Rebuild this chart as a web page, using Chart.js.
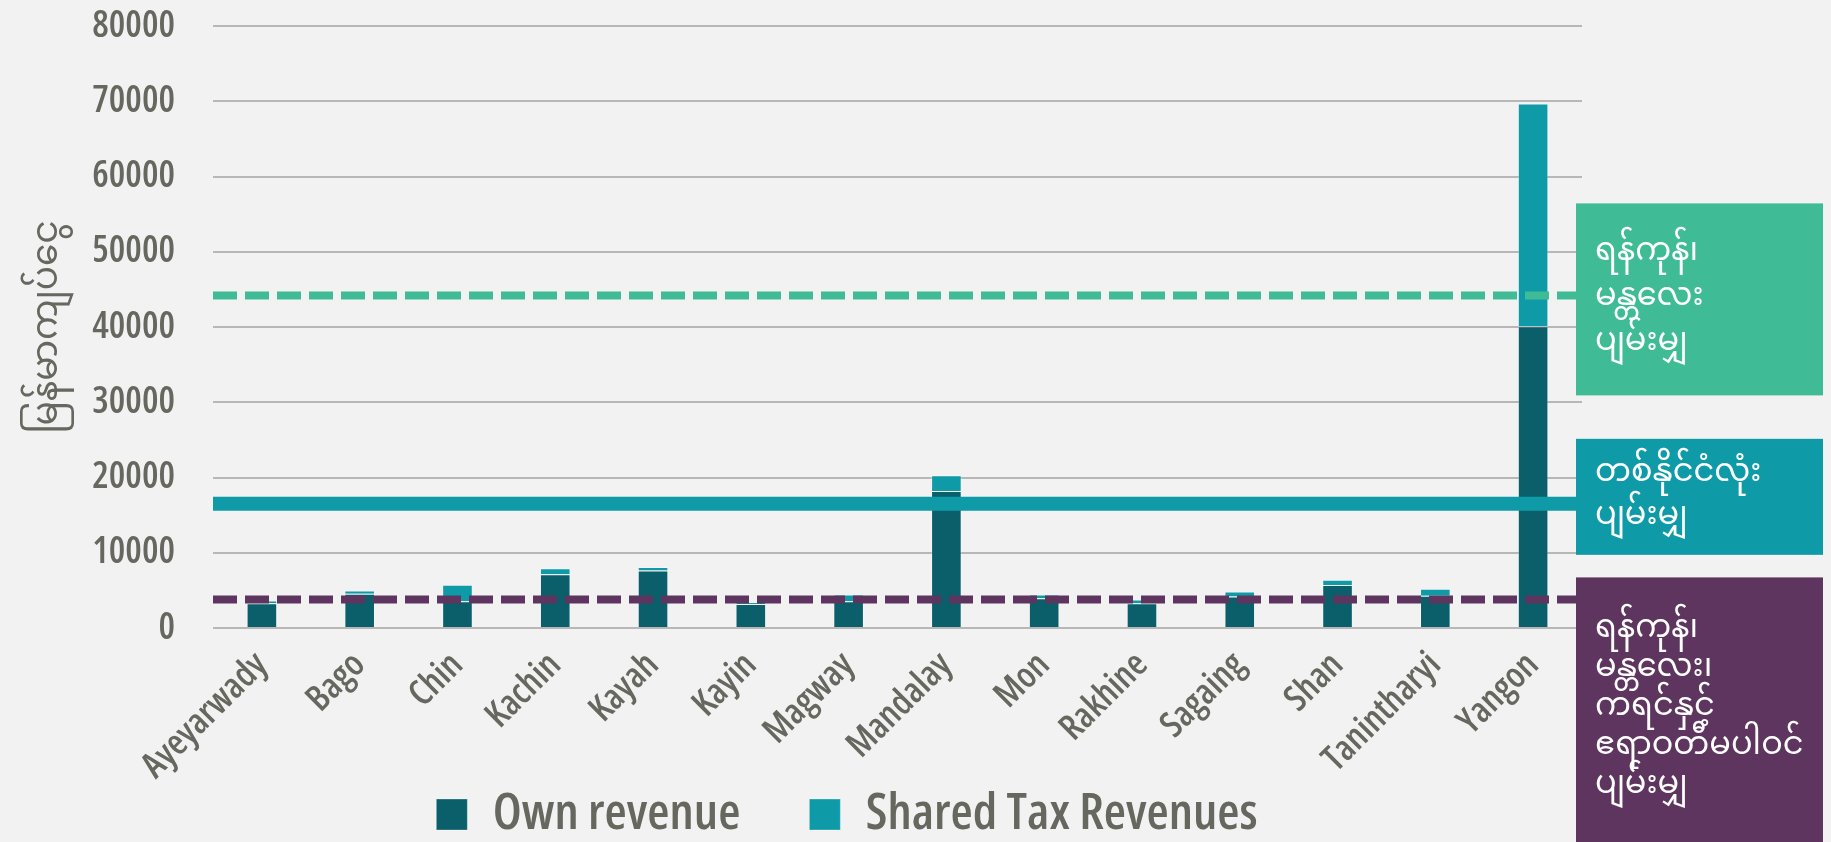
<!DOCTYPE html>
<html>
<head>
<meta charset="utf-8">
<script src="https://cdn.jsdelivr.net/npm/chart.js@4.4.1/dist/chart.umd.min.js"></script>
<style>
  html, body { margin: 0; padding: 0; background: #f2f2f2; }
  #wrap { width: 1831px; height: 842px; position: relative; }
</style>
</head>
<body>
<div id="wrap"><canvas id="revenueChart"></canvas></div>
<script>
// data
const regions = ['Ayeyarwady', 'Bago', 'Chin', 'Kachin', 'Kayah', 'Kayin', 'Magway', 'Mandalay',
                 'Mon', 'Rakhine', 'Sagaing', 'Shan', 'Tanintharyi', 'Yangon'];
const ownRevenue = [3300, 4550, 3550, 7150, 7650, 3200, 3550, 18200, 3950, 3300, 4200, 5700, 4300, 40100];
const sharedTax = [350, 450, 2200, 800, 450, 250, 900, 2100, 500, 500, 650, 700, 900, 29600];
const yMax = 80000;
const yStep = 10000;

const avgYangonMandalay = 44200;
const avgNational = 16500;
const avgOthers = 3800;

const yTitle = 'မြန်မာကျပ်ငွေ';
const seriesNames = ['Own revenue', 'Shared Tax Revenues'];
const labelYangonMandalay = ['ရန်ကုန်၊', 'မန္တလေး', 'ပျမ်းမျှ'];
const labelNational = ['တစ်နိုင်ငံလုံး', 'ပျမ်းမျှ'];
const labelOthers = ['ရန်ကုန်၊', 'မန္တလေး၊', 'ကရင်နှင့်', 'ဧရာဝတီမပါဝင်', 'ပျမ်းမျှ'];

const GREY = '#66675f';
const DARK = '#0a5f6b';
const TEAL = '#0f9aa8';
const GREEN = '#3fbb96';
const PURPLE = '#5e355e';
const narrowFont = '"Open Sans", sans-serif';
const mmFont = '"Noto Sans Myanmar", "Padauk", "Myanmar Text", "Noto Sans", sans-serif';

function avgLine(value, color, width, dash) {
    return {
        type: 'line',
        data: [{ x: 0, y: value }, { x: 1, y: value }],
        xAxisID: 'xl',
        yAxisID: 'yl',
        borderColor: color,
        borderWidth: width,
        borderDash: dash,
        pointRadius: 0,
        fill: false,
        order: 1
    };
}

// coloured label boxes on the right of the average lines
const sideBoxes = {
    id: 'sideBoxes',
    afterDraw(chart) {
        const ctx = chart.ctx;
        const y = chart.scales.y;
        const boxes = [
            { value: avgYangonMandalay, color: GREEN, top: -92, height: 192, lines: labelYangonMandalay, gap: 45 },
            { value: avgNational, color: TEAL, top: -65, height: 116, lines: labelNational, gap: 43 },
            { value: avgOthers, color: PURPLE, top: -22, height: 300, lines: labelOthers, gap: 39 }
        ];
        ctx.save();
        boxes.forEach(b => {
            const py = y.getPixelForValue(b.value);
            ctx.fillStyle = b.color;
            ctx.fillRect(1576, py + b.top, 247, b.height);
            ctx.fillStyle = '#ffffff';
            ctx.font = '32px ' + mmFont;
            ctx.textAlign = 'left';
            ctx.textBaseline = 'middle';
            const mid = py + b.top + Math.min(b.height, 842 - (py + b.top)) / 2 + 2;
            const start = mid - (b.lines.length - 1) * b.gap / 2;
            b.lines.forEach((t, i) => ctx.fillText(t, 1595, start + i * b.gap));
        });
        ctx.restore();
    }
};

const ctx = document.getElementById('revenueChart').getContext('2d');
new Chart(ctx, {
    type: 'bar',
    data: {
        labels: regions,
        datasets: [
            {
                label: seriesNames[0],
                data: ownRevenue,
                stack: 'rev',
                grouped: false,
                backgroundColor: DARK,
                borderColor: 'rgba(255,255,255,0.3)',
                borderWidth: 1,
                barPercentage: 0.313,
                categoryPercentage: 1,
                order: 2
            },
            {
                label: seriesNames[1],
                data: sharedTax,
                stack: 'rev',
                grouped: false,
                backgroundColor: TEAL,
                borderColor: 'rgba(255,255,255,0.3)',
                borderWidth: 1,
                barPercentage: 0.313,
                categoryPercentage: 1,
                order: 2
            },
            avgLine(avgYangonMandalay, GREEN, 8, [24, 8]),
            avgLine(avgNational, TEAL, 14, []),
            avgLine(avgOthers, PURPLE, 8, [24, 8])
        ]
    },
    options: {
        responsive: true,
        maintainAspectRatio: false,
        animation: false,
        layout: { padding: { top: 26, right: 137, bottom: 0, left: 0 } },
        plugins: {
            tooltip: { enabled: false },
            legend: {
                position: 'bottom',
                maxHeight: 122,
                labels: {
                    boxWidth: 31,
                    boxHeight: 31,
                    padding: 69,
                    color: GREY,
                    font: { size: 51, weight: '600 condensed', family: narrowFont },
                    filter: item => item.datasetIndex < 2
                }
            }
        },
        scales: {
            x: {
                stacked: true,
                grid: { display: false },
                border: { display: false },
                ticks: {
                    color: GREY,
                    font: { size: 36, weight: '600 condensed', family: narrowFont },
                    minRotation: 45,
                    maxRotation: 45,
                    autoSkip: false,
                    padding: 8
                },
                afterFit: s => {
                    s.height = 92;
                    s._computeLabelArea = () => null; // let rotated labels run over the legend band
                }
            },
            xl: { type: 'linear', min: 0, max: 1, offset: false, display: false },
            y: {
                stacked: true,
                min: 0,
                max: yMax,
                ticks: {
                    stepSize: yStep,
                    color: GREY,
                    font: { size: 37, weight: '600 condensed', family: narrowFont },
                    padding: 0,
                    callback: v => String(v)
                },
                grid: { color: '#b7b7b7', lineWidth: 2, drawTicks: true, tickLength: 38, tickColor: 'rgba(0,0,0,0)' },
                border: { display: false },
                title: {
                    display: true,
                    text: yTitle,
                    color: GREY,
                    font: { size: 36, family: mmFont },
                    padding: { top: 32, bottom: 0 }
                },
                afterFit: s => { s.width = 213; }
            },
            yl: { type: 'linear', min: 0, max: yMax, stacked: false, display: false },
            yR: {
                position: 'right',
                ticks: { display: false },
                grid: { display: false },
                border: { display: false },
                afterFit: s => { s.width = 112; }
            }
        }
    },
    plugins: [sideBoxes]
});
</script>
</body>
</html>
